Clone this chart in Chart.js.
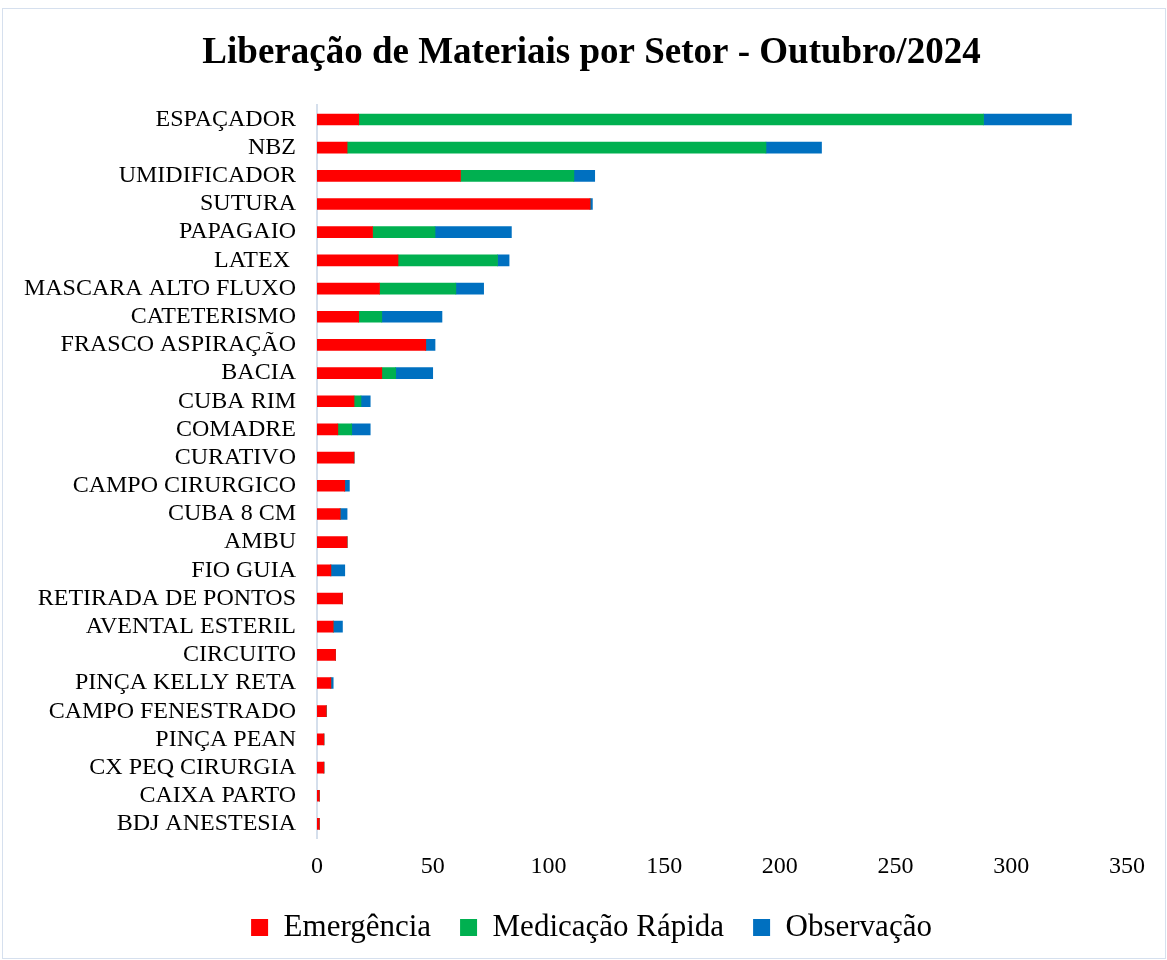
<!DOCTYPE html>
<html lang="pt-BR">
<head>
<meta charset="utf-8">
<title>Liberação de Materiais por Setor - Outubro/2024</title>
<script src="https://cdn.jsdelivr.net/npm/chart.js@4.4.1/dist/chart.umd.min.js"></script>
<style>
  html,body{margin:0;padding:0;background:#fff;}
  #wrap{position:relative;width:1167px;height:960px;}
  #frame{position:absolute;left:2px;top:8px;right:1px;bottom:1px;border:1px solid #d6e0ee;pointer-events:none;}
</style>
</head>
<body>
<div id="wrap">
  <canvas id="chart" width="1167" height="960"></canvas>
  <div id="frame"></div>
</div>
<script>
// dados (de cima para baixo)
const setores = [
  'ESPAÇADOR','NBZ','UMIDIFICADOR','SUTURA','PAPAGAIO','LATEX ',
  'MASCARA ALTO FLUXO','CATETERISMO','FRASCO ASPIRAÇÃO','BACIA','CUBA RIM','COMADRE',
  'CURATIVO','CAMPO CIRURGICO','CUBA 8 CM','AMBU','FIO GUIA','RETIRADA DE PONTOS',
  'AVENTAL ESTERIL','CIRCUITO','PINÇA KELLY RETA','CAMPO FENESTRADO','PINÇA PEAN',
  'CX PEQ CIRURGIA','CAIXA PARTO','BDJ ANESTESIA'
];
const emergencia = [18,13,62,118,24,35,27,18,47,28,16,9,16,12,10,13,6,11,7,8,6,4,3,3,1,1];
const medicacao  = [270,181,49,0,27,43,33,10,0,6,3,6,0,0,0,0,0,0,0,0,0,0,0,0,0,0];
const observacao = [38,24,9,1,33,5,12,26,4,16,4,8,0,2,3,0,6,0,4,0,1,0,0,0,0,0];
const eixoMin = 0, eixoMax = 350, eixoPasso = 50;

const fonte = "'Liberation Serif', 'Times New Roman', serif";

function initChart(){
  const ctx = document.getElementById('chart').getContext('2d');
  new Chart(ctx,{
    type:'bar',
    data:{
      labels:setores,
      datasets:[
        {label:'Emergência',data:emergencia,backgroundColor:'#FF0000'},
        {label:'Medicação Rápida',data:medicacao,backgroundColor:'#00B050'},
        {label:'Observação',data:observacao,backgroundColor:'#0070C0'}
      ]
    },
    options:{
      indexAxis:'y',
      responsive:false,
      animation:false,
      layout:{padding:{left:16,right:0,top:0,bottom:7}},
      datasets:{bar:{barThickness:11,borderWidth:0}},
      plugins:{
        title:{display:true,text:'Liberação de Materiais por Setor - Outubro/2024',color:'#000',
          font:{family:fonte,size:37,weight:'bold'},padding:{top:31,bottom:30}},
        legend:{position:'bottom',
          labels:{boxWidth:17,boxHeight:17,padding:29,color:'#000',font:{family:fonte,size:31}}},
        tooltip:{enabled:false}
      },
      scales:{
        x:{stacked:true,min:eixoMin,max:eixoMax,
          grid:{display:false,drawTicks:false},border:{display:false},
          ticks:{stepSize:eixoPasso,padding:14,color:'#000',font:{family:fonte,size:24}},
          afterFit:(s)=>{s.paddingRight=40;s.height=45;}},
        y:{stacked:true,
          grid:{display:false,drawTicks:false},border:{display:true,color:'#d5dfec',width:2},
          ticks:{autoSkip:false,padding:21,color:'#000',font:{family:fonte,size:24}},
          afterFit:(s)=>{s.width=301;}}
      }
    }
  });
}

document.addEventListener('DOMContentLoaded',initChart);
</script>
</body>
</html>
